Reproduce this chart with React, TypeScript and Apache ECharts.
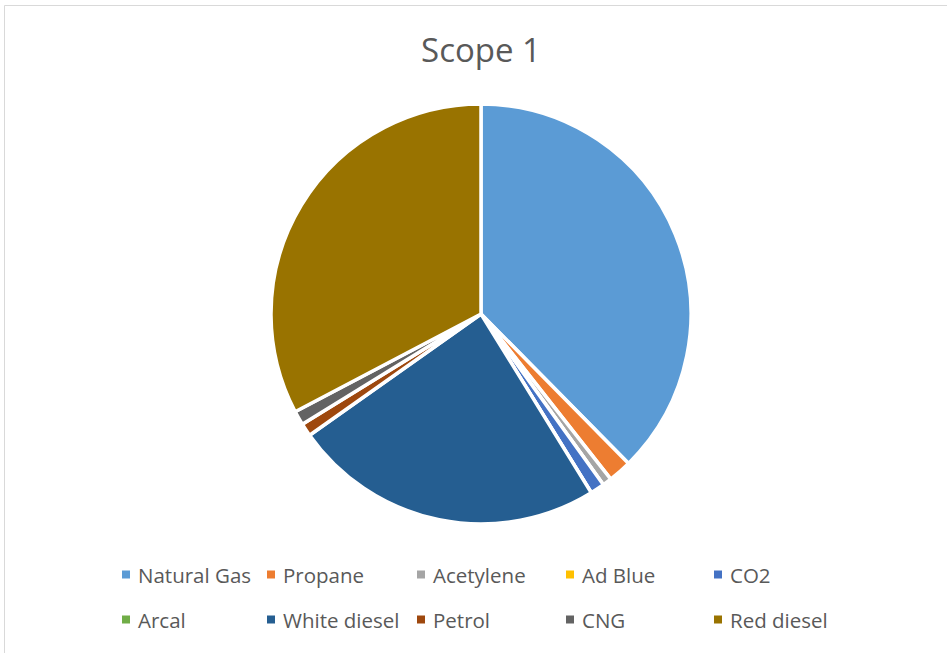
import React, { useEffect, useRef } from "react";
import * as echarts from "echarts";

const categories = [
  "Natural Gas",
  "Propane",
  "Acetylene",
  "Ad Blue",
  "CO2",
  "Arcal",
  "White diesel",
  "Petrol",
  "CNG",
  "Red diesel",
];
const values = [37.6, 1.8, 0.7, 0, 1.1, 0, 24.0, 1.0, 1.1, 32.7];
const colors = [
  "#5b9bd5",
  "#ed7d31",
  "#a5a5a5",
  "#ffc000",
  "#4472c4",
  "#70ad47",
  "#255e91",
  "#9e480e",
  "#636363",
  "#997300",
];

// legend grid: five columns, two rows
const legendCols = [122, 267, 417, 566, 714];
const legendRows = [564, 609];

export default function App() {
  const ref = useRef<HTMLDivElement>(null);

  useEffect(() => {
    document.body.style.margin = "0";
    if (!ref.current) return;
    const chart = echarts.init(ref.current, undefined, { renderer: "svg" });
    const legends = categories.map((name, i) => ({
      orient: "horizontal" as const,
      left: legendCols[i % 5],
      top: legendRows[Math.floor(i / 5)],
      padding: 0,
      itemWidth: 8,
      itemHeight: 8,
      itemGap: 0,
      icon: "rect",
      selectedMode: false,
      itemStyle: { borderWidth: 0 },
      textStyle: {
        color: "#595959",
        fontSize: 20.5,
        fontFamily: "Open Sans, sans-serif",
        padding: [0, 0, 0, 3],
      },
      data: [name],
    }));
    chart.setOption({
      animation: false,
      color: colors,
      legend: legends,
      graphic: [
        {
          type: "rect",
          shape: { x: 4.5, y: 5.5, width: 1000, height: 1000 },
          style: { fill: "none", stroke: "#d9d9d9", lineWidth: 1 },
          silent: true,
        },
        {
          type: "text",
          x: 481,
          y: 49,
          style: {
            text: "Scope 1",
            fill: "#595959",
            fontSize: 33,
            fontFamily: "Open Sans, sans-serif",
            align: "center",
            verticalAlign: "middle",
          },
          silent: true,
        },
      ],
      series: [
        {
          type: "pie",
          center: [481, 314],
          radius: [0, 210],
          startAngle: 90,
          clockwise: true,
          label: { show: false },
          labelLine: { show: false },
          emphasis: { disabled: true },
          itemStyle: { borderColor: "#ffffff", borderWidth: 3.5 },
          data: categories.map((name, i) => ({ name, value: values[i] })),
        },
      ],
    });
    return () => chart.dispose();
  }, []);

  return <div ref={ref} style={{ width: 947, height: 653 }} />;
}
